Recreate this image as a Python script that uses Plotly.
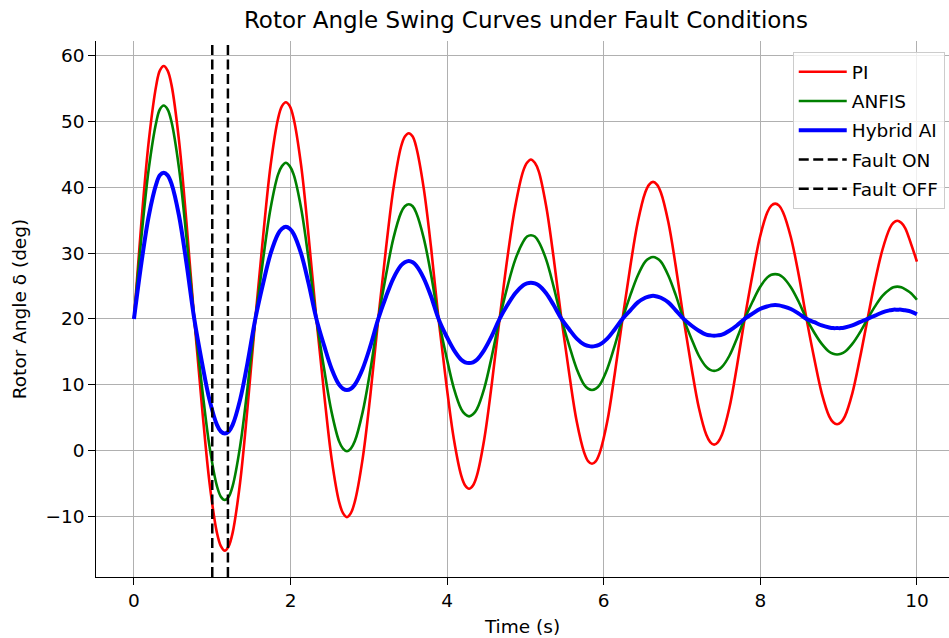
import plotly.graph_objects as go

# Sample times (s) through each swing: crossings of 20 deg, intermediate points and extrema
time_s = [0.00, 0.095, 0.19, 0.285, 0.33, 0.38, 0.43, 0.48, 0.575, 0.67, 0.77,
          0.87, 0.965, 1.06, 1.11, 1.16, 1.21, 1.26, 1.355, 1.45, 1.55,
          1.65, 1.745, 1.84, 1.89, 1.94, 1.99, 2.04, 2.135, 2.23, 2.33,
          2.43, 2.525, 2.62, 2.67, 2.72, 2.77, 2.82, 2.92, 3.02, 3.12,
          3.22, 3.315, 3.41, 3.46, 3.51, 3.56, 3.605, 3.70, 3.795, 3.89,
          3.99, 4.085, 4.18, 4.23, 4.28, 4.33, 4.38, 4.475, 4.57, 4.67,
          4.77, 4.87, 4.97, 5.02, 5.07, 5.12, 5.17, 5.265, 5.36, 5.46,
          5.56, 5.655, 5.75, 5.80, 5.85, 5.90, 5.95, 6.045, 6.14, 6.24,
          6.34, 6.435, 6.53, 6.58, 6.63, 6.68, 6.73, 6.825, 6.92, 7.02,
          7.12, 7.215, 7.31, 7.36, 7.41, 7.46, 7.51, 7.605, 7.70, 7.80,
          7.90, 7.995, 8.09, 8.14, 8.19, 8.24, 8.29, 8.39, 8.49, 8.59,
          8.69, 8.785, 8.88, 8.93, 8.98, 9.03, 9.08, 9.175, 9.27, 9.37,
          9.465, 9.56, 9.655, 9.70, 9.75, 9.80, 9.85, 9.925, 10.00]

# Rotor angle (deg) under the PI controller
delta_pi = [20.0, 34.7, 47.1, 55.5, 57.7, 58.4, 57.7, 55.5, 47.1, 34.7, 20.0,
            6.5, -4.9, -12.5, -14.5, -15.2, -14.5, -12.5, -4.9, 6.5, 20.0,
            32.6, 43.3, 50.4, 52.3, 52.9, 52.3, 50.4, 43.3, 32.6, 20.0,
            8.5, -1.3, -7.8, -9.5, -10.1, -9.5, -7.8, -1.3, 8.5, 20.0,
            30.8, 39.9, 46.1, 47.7, 48.2, 47.7, 46.1, 39.9, 30.8, 20.0,
            10.1, 1.8, -3.8, -5.3, -5.8, -5.3, -3.8, 1.8, 10.1, 20.0,
            29.3, 37.1, 42.4, 43.7, 44.2, 43.7, 42.4, 37.1, 29.3, 20.0,
            11.6, 4.4, -0.3, -1.6, -2.0, -1.6, -0.3, 4.4, 11.6, 20.0,
            28.0, 34.7, 39.2, 40.4, 40.8, 40.4, 39.2, 34.7, 28.0, 20.0,
            12.7, 6.5, 2.4, 1.3, 0.9, 1.3, 2.4, 6.5, 12.7, 20.0,
            26.7, 32.4, 36.2, 37.2, 37.5, 37.2, 36.2, 32.4, 26.7, 20.0,
            13.9, 8.7, 5.2, 4.3, 4.0, 4.3, 5.2, 8.7, 13.9, 20.0,
            25.7, 30.5, 33.8, 34.6, 34.9, 34.6, 33.8, 31.4, 28.7]

# Rotor angle (deg) under the ANFIS controller
delta_anfis = [20.0, 32.4, 42.9, 49.9, 51.8, 52.4, 51.8, 49.9, 42.9, 32.4, 20.0,
               9.5, 0.6, -5.4, -7.0, -7.5, -7.0, -5.4, 0.6, 9.5, 20.0,
               29.1, 36.8, 41.9, 43.2, 43.7, 43.2, 41.9, 36.8, 29.1, 20.0,
               12.3, 5.8, 1.4, 0.3, -0.1, 0.3, 1.4, 5.8, 12.3, 20.0,
               26.7, 32.3, 36.1, 37.1, 37.4, 37.1, 36.1, 32.3, 26.7, 20.0,
               14.3, 9.5, 6.3, 5.5, 5.2, 5.5, 6.3, 9.5, 14.3, 20.0,
               24.9, 29.0, 31.7, 32.5, 32.7, 32.5, 31.7, 29.0, 24.9, 20.0,
               15.9, 12.4, 10.0, 9.4, 9.2, 9.4, 10.0, 12.4, 15.9, 20.0,
               23.6, 26.6, 28.7, 29.2, 29.4, 29.2, 28.7, 26.6, 23.6, 20.0,
               17.0, 14.4, 12.7, 12.25, 12.1, 12.25, 12.7, 14.4, 17.0, 20.0,
               22.6, 24.8, 26.3, 26.7, 26.8, 26.7, 26.3, 24.8, 22.6, 20.0,
               17.9, 16.2, 15.0, 14.7, 14.6, 14.7, 15.0, 16.2, 17.9, 20.0,
               21.9, 23.5, 24.5, 24.8, 24.9, 24.8, 24.5, 23.9, 22.9]

# Rotor angle (deg) under the hybrid AI controller
delta_hybrid = [20.0, 28.5, 35.7, 40.5, 41.8, 42.2, 41.8, 40.5, 35.7, 28.5, 20.0,
                13.3, 7.7, 3.9, 2.9, 2.6, 2.9, 3.9, 7.7, 13.3, 20.0,
                25.4, 29.9, 32.9, 33.7, 34.0, 33.7, 32.9, 29.9, 25.4, 20.0,
                15.9, 12.4, 10.0, 9.4, 9.2, 9.4, 10.0, 12.4, 15.9, 20.0,
                23.4, 26.2, 28.1, 28.6, 28.8, 28.6, 28.1, 26.2, 23.4, 20.0,
                17.4, 15.3, 13.8, 13.4, 13.3, 13.4, 13.8, 15.3, 17.4, 20.0,
                22.1, 23.9, 25.1, 25.4, 25.5, 25.4, 25.1, 23.9, 22.1, 20.0,
                18.4, 17.0, 16.1, 15.9, 15.8, 15.9, 16.1, 17.0, 18.4, 20.0,
                21.3, 22.5, 23.2, 23.4, 23.5, 23.4, 23.2, 22.5, 21.3, 20.0,
                19.0, 18.2, 17.6, 17.5, 17.45, 17.5, 17.6, 18.2, 19.0, 20.0,
                20.8, 21.5, 21.9, 22.05, 22.1, 22.05, 21.9, 21.5, 20.8, 20.0,
                19.5, 19.0, 18.7, 18.6, 18.6, 18.6, 18.7, 19.0, 19.5, 20.0,
                20.5, 21.0, 21.3, 21.4, 21.4, 21.4, 21.3, 21.1, 20.7]

fault_on = 1.0
fault_off = 1.2

x_ticks = [0, 2, 4, 6, 8, 10]
y_ticks = [-10, 0, 10, 20, 30, 40, 50, 60]

x_range = [-0.485, 10.41]
y_range = [-19.2, 62.2]

FONT = "DejaVu Sans"
BASE = 18.5

fig = go.Figure()

series = [
    ("PI", delta_pi, "#ff0000", 2.6),
    ("ANFIS", delta_anfis, "#008000", 2.6),
    ("Hybrid AI", delta_hybrid, "#0000ff", 4.0),
]
for i, (name, vals, color, width) in enumerate(series):
    fig.add_trace(go.Scatter(
        x=time_s, y=vals, mode="lines", name=name,
        line=dict(color=color, width=width, shape="spline", smoothing=1.0),
        legendgroup=f"g{i}",
    ))

for j, (name, t) in enumerate([("Fault ON", fault_on), ("Fault OFF", fault_off)]):
    fig.add_trace(go.Scatter(
        x=[t, t], y=y_range, mode="lines", name=name,
        line=dict(color="black", width=2.5, dash="10px,4.5px"),
        legendgroup=f"f{j}",
    ))

axis_common = dict(
    showgrid=True, gridcolor="#b0b0b0", gridwidth=1.4,
    showline=True, linecolor="black", linewidth=1.4,
    ticks="outside", ticklen=6.5, tickwidth=1.4, tickcolor="black",
    tickfont=dict(family=FONT, size=BASE, color="black"),
    zeroline=False,
)

fig.update_layout(
    width=949, height=638,
    margin=dict(l=96, r=0, t=41, b=61),
    paper_bgcolor="white", plot_bgcolor="white",
    title=dict(
        text="Rotor Angle Swing Curves under Fault Conditions",
        font=dict(family=FONT, size=23, color="black"),
        x=0.504, xref="paper", xanchor="center",
        y=0.9687, yref="container", yanchor="middle",
    ),
    xaxis=dict(
        range=x_range, tickvals=x_ticks,
        title=dict(text="Time (s)", font=dict(family=FONT, size=BASE, color="black"), standoff=10),
        **axis_common,
    ),
    yaxis=dict(
        range=y_range, tickvals=y_ticks,
        title=dict(text="Rotor Angle δ (deg)", font=dict(family=FONT, size=BASE, color="black"), standoff=14),
        **axis_common,
    ),
    legend=dict(
        x=0.995, y=0.979, xanchor="right", yanchor="top",
        bgcolor="rgba(255,255,255,0.8)", bordercolor="#cccccc", borderwidth=1,
        font=dict(family=FONT, size=BASE, color="black"),
        tracegroupgap=2.2, itemwidth=48,
    ),
    showlegend=True,
)

fig.write_html("out.html")
